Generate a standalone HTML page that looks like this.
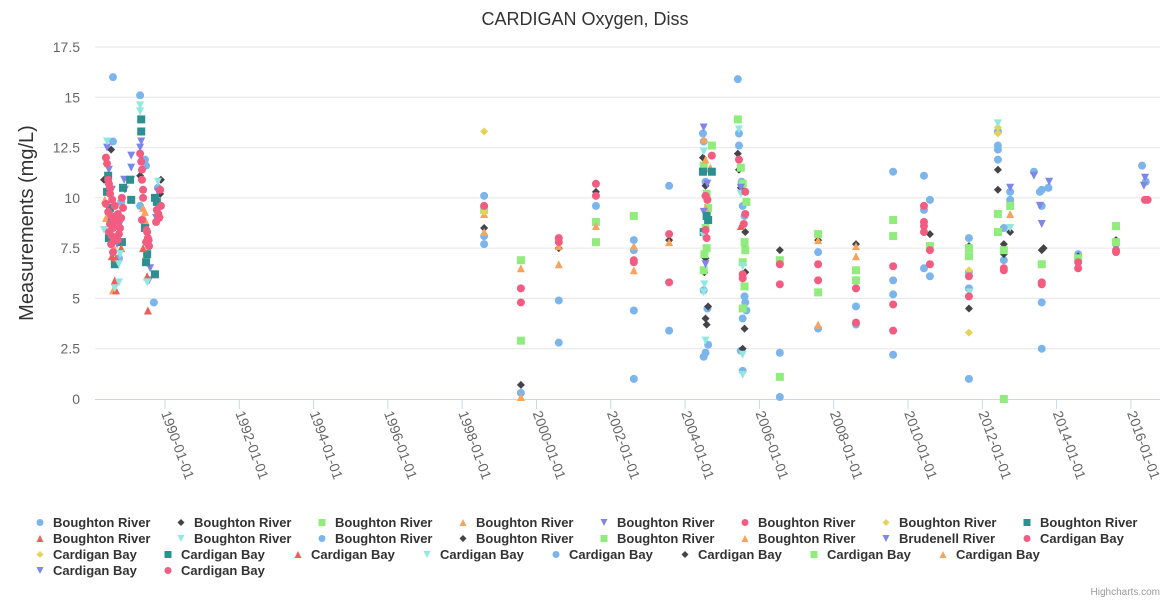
<!DOCTYPE html>
<html><head><meta charset="utf-8">
<style>
body{margin:0;background:#fff;font-family:"Liberation Sans",sans-serif;}
svg{display:block}
</style></head>
<body>
<svg id="chart" width="1170" height="600" xmlns="http://www.w3.org/2000/svg">
<rect width="1170" height="600" fill="#fff"/>
<text x="585" y="25" text-anchor="middle" font-size="18" fill="#333">CARDIGAN Oxygen, Diss</text>
<text transform="translate(33,223) rotate(-90)" text-anchor="middle" font-size="20" fill="#333">Measurements (mg/L)</text>
<g id="grid"></g><g id="xaxis"></g><g id="points"></g><g id="legend"></g>
<text x="1160" y="595" text-anchor="end" font-size="10" fill="#999">Highcharts.com</text>
</svg>
<script>
const yTicks=[0,2.5,5,7.5,10,12.5,15,17.5];
const yTickLabels=["0","2.5","5","7.5","10","12.5","15","17.5"];
const xTickYears=[1990,1992,1994,1996,1998,2000,2002,2004,2006,2008,2010,2012,2014,2016];
const xTickLabels=["1990-01-01","1992-01-01","1994-01-01","1996-01-01","1998-01-01","2000-01-01","2002-01-01","2004-01-01","2006-01-01","2008-01-01","2010-01-01","2012-01-01","2014-01-01","2016-01-01"];
const blue=[[1988.6,16.0],[1988.6,12.8],[1988.76,7.0],[1988.82,9.8],[1989.33,15.1],[1989.46,11.9],[1989.49,11.6],[1989.33,9.6],[1989.7,4.8],[1989.81,10.5],
[1998.59,10.1],[1998.59,8.1],[1998.59,7.7],[1999.58,0.3],[2000.6,4.9],[2000.6,2.8],[2001.6,9.6],[2002.62,7.9],[2002.62,7.4],[2002.62,4.4],[2002.62,1.0],[2003.57,10.6],[2003.57,3.4],
[2004.48,13.2],[2004.5,12.8],[2004.55,10.8],[2004.5,5.4],[2004.6,4.5],[2004.62,2.7],[2004.55,2.3],[2004.5,2.1],
[2005.42,15.9],[2005.45,13.2],[2005.45,12.6],[2005.52,10.8],[2005.55,9.6],[2005.6,9.1],[2005.6,5.1],[2005.62,4.8],[2005.65,4.4],[2005.55,4.0],[2005.5,2.4],[2005.55,1.4],
[2006.55,2.3],[2006.55,0.1],[2007.58,7.3],[2007.58,3.5],[2008.6,4.6],[2008.6,3.7],[2009.6,11.3],[2009.6,5.9],[2009.6,5.2],[2009.6,2.2],
[2010.43,11.1],[2010.59,9.9],[2010.43,9.4],[2010.43,6.5],[2010.59,6.1],[2011.64,8.0],[2011.64,6.3],[2011.64,5.5],[2011.64,1.0],
[2012.42,13.3],[2012.42,12.6],[2012.42,12.4],[2012.42,11.9],[2012.58,8.5],[2012.58,6.9],[2012.75,10.3],[2012.75,9.9],
[2013.39,11.3],[2013.55,10.3],[2013.6,10.4],[2013.6,9.6],[2013.6,4.8],[2013.6,2.5],[2013.78,10.5],[2014.58,7.2],[2015.6,7.7],[2016.3,11.6],[2016.4,10.8]];
const black=[[1988.55,12.4],[1988.36,10.9],[1989.33,11.1],[1989.89,10.9],[1989.87,10.2],
[1998.59,8.5],[1999.58,0.7],[2000.6,7.5],[2001.6,10.3],[2003.57,7.9],
[2004.48,12.0],[2004.5,11.3],[2004.55,10.6],[2004.5,8.4],[2004.55,7.0],[2004.52,6.3],[2004.62,4.6],[2004.55,4.0],[2004.58,3.7],
[2005.42,12.2],[2005.45,11.4],[2005.5,10.5],[2005.62,8.3],[2005.6,7.7],[2005.62,6.3],[2005.6,3.5],[2005.55,2.5],
[2006.55,7.4],[2007.58,7.9],[2008.6,7.7],[2010.59,8.2],[2011.64,4.5],[2011.64,7.6],[2012.42,11.4],[2012.42,10.4],[2012.58,7.7],[2012.58,7.2],[2012.75,8.3],[2013.6,7.4],[2013.65,7.5],[2014.58,7.1],[2015.6,7.9]];
const green=[[1998.59,9.4],[1999.58,6.9],[1999.58,2.9],[2001.6,8.8],[2001.6,7.8],[2002.62,9.1],
[2004.72,12.6],[2004.5,11.6],[2004.58,10.2],[2004.62,9.5],[2004.55,8.5],[2004.58,7.5],[2004.52,7.2],[2004.5,6.4],
[2005.42,13.9],[2005.5,11.5],[2005.55,10.7],[2005.65,9.8],[2005.6,7.8],[2005.62,7.4],[2005.55,6.8],[2005.6,5.6],[2005.55,4.5],
[2006.55,6.9],[2006.55,1.1],[2007.58,8.2],[2007.58,5.3],[2008.6,6.4],[2008.6,5.9],[2009.6,8.9],[2009.6,8.1],[2010.59,7.6],[2011.64,7.5],[2011.64,7.1],[2012.42,9.2],[2012.42,8.3],[2012.58,7.4],[2012.58,0.0],[2012.75,9.6],[2013.6,6.7],[2014.58,7.0],[2015.6,8.6],[2015.6,7.8]];
const orange=[[1988.38,9.9],[1988.41,9.0],[1988.63,7.5],[1988.6,5.4],[1989.41,9.5],[1989.46,9.3],[1989.44,9.0],[1989.49,8.8],[1989.87,9.2],
[1998.59,9.2],[1998.59,8.3],[1999.58,6.5],[1999.58,0.1],[2000.6,7.6],[2000.6,6.7],[2001.6,8.6],[2002.62,7.6],[2002.62,6.4],[2003.57,7.8],
[2004.5,12.9],[2004.55,11.9],[2004.68,11.5],[2004.55,9.5],[2007.58,7.9],[2007.58,3.7],[2008.6,7.6],[2008.6,7.1],[2012.75,9.2]];
const purple=[[1988.44,12.5],[1988.49,11.4],[1988.57,10.4],[1988.9,10.9],[1988.92,10.4],[1988.79,8.7],[1988.71,7.7],[1989.09,12.1],[1989.09,11.5],[1989.09,10.9],
[1989.36,12.8],[1989.33,12.5],[1989.6,6.5],[1989.57,5.9],[1989.81,10.3],[1989.76,9.0],
[2004.5,13.5],[2004.6,10.7],[2004.5,9.3],[2004.55,6.7],[2005.5,10.5],
[2012.75,10.5],[2013.39,11.1],[2013.55,9.6],[2013.6,8.7],[2013.8,10.8],[2016.38,11.0],[2016.35,10.6]];
const pink=[[1988.41,12.0],[1988.44,11.7],[1988.47,10.9],[1988.49,10.7],[1988.52,10.2],[1988.41,9.7],[1988.47,9.3],[1988.55,9.1],[1988.52,8.7],[1988.6,8.5],[1988.49,8.3],[1988.57,8.1],[1988.65,7.9],[1988.55,7.7],[1988.6,7.3],
[1988.79,8.5],[1988.82,9.0],[1988.87,9.5],[1988.73,9.2],[1988.71,8.8],[1988.76,8.2],[1988.84,10.0],[1988.52,10.5],[1988.63,8.9],[1988.68,8.0],[1988.73,7.9],[1988.65,9.6],[1988.58,9.9],
[1989.33,12.2],[1989.36,11.8],[1989.38,11.4],[1989.38,10.9],[1989.41,10.4],[1989.41,10.0],[1989.38,8.9],[1989.52,8.3],[1989.54,8.0],[1989.49,7.8],[1989.57,7.6],[1989.5,8.4],[1989.56,7.9],
[1989.87,10.4],[1989.78,9.4],[1989.84,9.0],[1989.76,8.8],[1989.89,9.6],[1989.82,9.2],
[1998.59,9.6],[1999.58,5.5],[1999.58,4.8],[2000.6,8.0],[2000.6,7.8],[2001.6,10.7],[2001.6,10.1],[2002.62,6.9],[2002.62,6.8],[2003.57,8.2],[2003.57,5.8],
[2004.72,12.1],[2004.55,10.1],[2004.6,9.9],[2004.55,8.4],[2004.58,8.0],
[2005.45,11.9],[2005.62,10.3],[2005.62,9.2],[2005.58,8.7],[2005.55,6.2],[2005.55,6.0],
[2006.55,6.7],[2006.55,5.7],[2007.58,6.7],[2007.58,5.9],[2008.6,5.5],[2008.6,3.8],[2009.6,6.6],[2009.6,4.7],[2009.6,3.4],
[2010.43,9.6],[2010.43,8.8],[2010.43,8.6],[2010.43,8.3],[2010.59,7.4],[2010.59,6.7],[2011.64,6.1],[2011.64,5.1],[2012.58,6.5],[2012.58,6.4],[2013.6,5.8],[2013.6,5.7],[2014.58,6.8],[2014.58,6.5],[2015.6,7.4],[2015.6,7.3],[2016.38,9.9],[2016.45,9.9]];
const yellow=[[1998.59,13.3],[1998.59,9.3],[2011.64,6.4],[2011.64,3.3],[2012.42,13.5],[2012.42,13.2]];
const teal=[[1988.47,11.1],[1988.44,10.3],[1988.52,9.5],[1988.57,8.9],[1988.49,8.0],[1988.65,6.7],[1988.84,7.8],[1988.87,10.5],[1989.06,10.9],[1989.09,9.9],
[1989.36,13.9],[1989.36,13.3],[1989.46,8.5],[1989.52,7.2],[1989.49,6.8],[1989.73,6.2],[1989.78,9.8],[1989.73,10.0],
[2004.48,11.3],[2004.62,8.9],[2004.58,9.1],[2004.5,8.3],[2004.72,11.3]];
const red=[[1988.57,7.1],[1988.68,7.0],[1988.65,5.9],[1988.68,5.4],[1988.82,7.5],[1989.36,12.0],[1989.41,7.5],[1989.52,6.1],[1989.54,4.4],[2005.5,8.6]];
const cyan=[[1988.44,12.8],[1988.36,8.4],[1988.76,6.7],[1988.76,5.8],[1988.65,5.5],[1988.79,7.2],[1989.33,14.6],[1989.33,14.3],[1989.52,5.8],[1989.81,10.8],
[2004.5,12.3],[2004.5,8.1],[2004.5,5.3],[2004.55,2.9],[2004.52,5.7],[2005.45,13.4],[2005.5,10.2],[2005.55,6.6],[2005.55,2.2],[2005.55,1.2],
[2011.66,5.3],[2012.42,13.7],[2012.75,8.5]];
const legendNames=["Boughton River","Boughton River","Boughton River","Boughton River","Boughton River","Boughton River","Boughton River","Boughton River",
"Boughton River","Boughton River","Boughton River","Boughton River","Boughton River","Boughton River","Brudenell River","Cardigan Bay",
"Cardigan Bay","Cardigan Bay","Cardigan Bay","Cardigan Bay","Cardigan Bay","Cardigan Bay","Cardigan Bay","Cardigan Bay",
"Cardigan Bay","Cardigan Bay"];
const legendTypes=["blue","black","green","orange","purple","pink","yellow","teal","red","cyan","blue","black","green","orange","purple","pink","yellow","teal","red","cyan","blue","black","green","orange","purple","pink"];

const styles={blue:["#7cb5ec","circle"],black:["#434348","diamond"],green:["#90ed7d","square"],orange:["#f7a35c","tri"],purple:["#8085e9","tridown"],pink:["#f15c80","circle"],yellow:["#e4d354","diamond"],teal:["#2b908f","square"],red:["#f45b5b","tri"],cyan:["#91e8e1","tridown"]};
const NS="http://www.w3.org/2000/svg";
const X0=95,X1=1160,Y0=399,Y1=47;
function xs(yr){return 165+(yr-1990)*37.15;}
function ys(v){return Y0-(v/17.5)*(Y0-Y1);}
function mk(tag,attrs,parent){const e=document.createElementNS(NS,tag);for(const k in attrs)e.setAttribute(k,attrs[k]);parent.appendChild(e);return e;}
const grid=document.getElementById('grid');
yTicks.forEach((t,i)=>{
  const y=ys(t);
  if(t>0){const l=mk('line',{x1:X0,x2:X1,y1:y,y2:y,stroke:'#e6e6e6'},grid);
  
  }
  const tx=mk('text',{x:80,y:y+5,'text-anchor':'end','font-size':14,fill:'#666'},grid);
  tx.textContent=yTickLabels[i];
  
  
});
const xa=document.getElementById('xaxis');
const al=mk('line',{x1:X0,x2:X1,y1:Y0+0.5,y2:Y0+0.5,stroke:'#ccd6eb'},xa);


xTickYears.forEach((yr,i)=>{
  const x=xs(yr);
  const tk=mk('line',{x1:x,x2:x,y1:Y0,y2:Y0+10,stroke:'#ccd6eb'},xa);
  
  
  const tx=mk('text',{transform:`translate(${x-4},${Y0+14}) rotate(70)`,'font-size':14,fill:'#666'},xa);
  tx.textContent=xTickLabels[i];
  
  
});
function marker(type,cx,cy,r,parent){
  const [c,s]=styles[type];let e;
  if(s==='circle')e=mk('circle',{cx,cy,r,fill:c},parent);
  else if(s==='square')e=mk('rect',{x:cx-r,y:cy-r,width:2*r,height:2*r,fill:c},parent);
  else if(s==='diamond')e=mk('path',{d:`M${cx},${cy-r}L${cx+r},${cy}L${cx},${cy+r}L${cx-r},${cy}Z`,fill:c},parent);
  else if(s==='tri')e=mk('path',{d:`M${cx},${cy-r}L${cx+r},${cy+r}L${cx-r},${cy+r}Z`,fill:c},parent);
  else e=mk('path',{d:`M${cx-r},${cy-r}L${cx+r},${cy-r}L${cx},${cy+r}Z`,fill:c},parent);
  return e;
}
const pts=document.getElementById('points');
const seriesList=[["blue",blue],["black",black],["green",green],["orange",orange],["purple",purple],["yellow",yellow],["teal",teal],["red",red],["cyan",cyan],["pink",pink]];
seriesList.forEach(([type,data])=>{
  const g=mk('g',{},pts);
  
  
  data.forEach(d=>{
    const e=marker(type,xs(d[0]),ys(d[1]),4,g);
    
    
  });
});
const lg=document.getElementById('legend');
const rowX1=[53,194,335,476,617,758,899,1040];
const rowX3=[53,181,311,440,569,698,827,956];
legendNames.forEach((n,i)=>{
  const row=Math.floor(i/8),col=i%8;
  const x=row<2?rowX1[col]:rowX3[col];
  const y=527+row*16;
  const g=mk('g',{},lg);
  
  
  marker(legendTypes[i],x-13,y-4.5,3.5,g);
  const t=mk('text',{x,y,'font-size':13,'font-weight':'bold',fill:'#333'},g);
  t.textContent=n;
});
</script>
</body></html>
